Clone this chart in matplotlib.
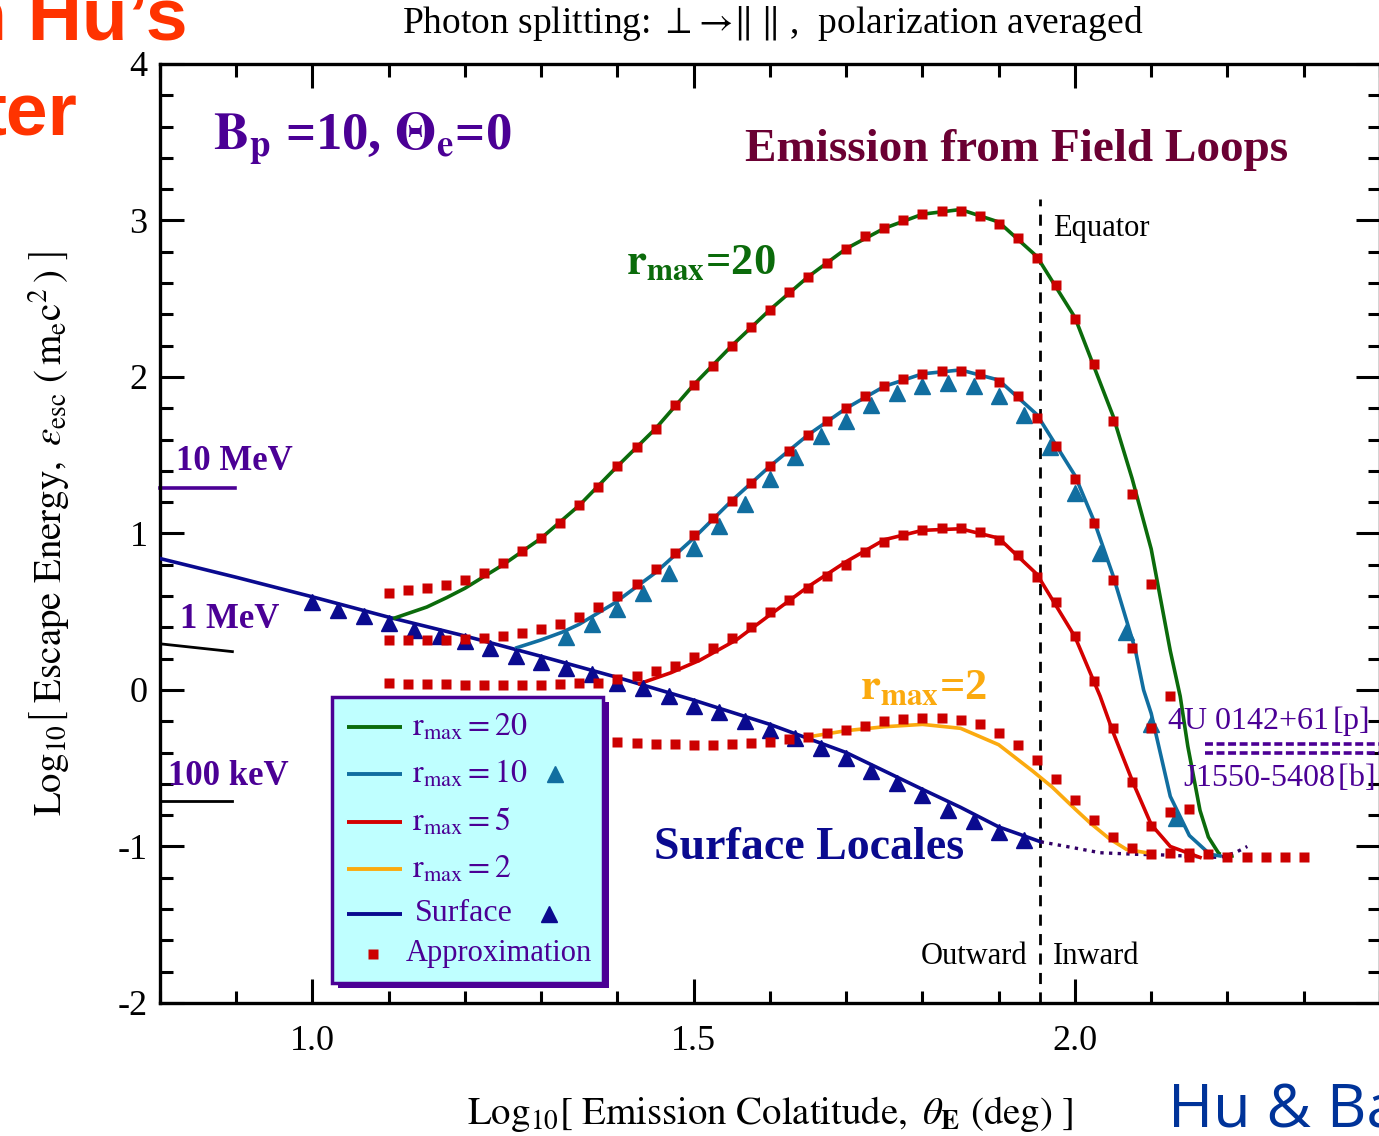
import numpy as np
import matplotlib
matplotlib.use("Agg")
import matplotlib.pyplot as plt
from matplotlib.patches import Rectangle

plt.rcParams['font.family'] = ['Liberation Serif', 'DejaVu Serif']
plt.rcParams['mathtext.fontset'] = 'stix'
plt.rcParams['axes.unicode_minus'] = False

# ---- data ----
surf_x = [0.80, 0.90, 1.00, 1.10, 1.20, 1.30, 1.40, 1.50, 1.60, 1.70, 1.80, 1.85, 1.90, 1.955]
surf_y = [0.84, 0.72, 0.595, 0.465, 0.345, 0.215, 0.08, -0.065, -0.22, -0.40, -0.635, -0.75, -0.875, -0.97]
surf_dot_x = [1.955, 2.00, 2.033, 2.08, 2.121, 2.16, 2.19, 2.21, 2.226]
surf_dot_y = [-0.97, -1.01, -1.04, -1.05, -1.055, -1.065, -1.07, -1.04, -1.00]
surf_tri_x = [1.000, 1.033, 1.067, 1.100, 1.133, 1.167, 1.200, 1.233, 1.267, 1.300, 1.333, 1.367,
              1.400, 1.433, 1.467, 1.500, 1.533, 1.567, 1.600, 1.633, 1.667, 1.700, 1.733, 1.767,
              1.800, 1.833, 1.867, 1.900, 1.933]
surf_tri_y = [0.56, 0.51, 0.47, 0.43, 0.38, 0.345, 0.31, 0.27, 0.22, 0.18, 0.14, 0.10,
              0.045, 0.01, -0.04, -0.10, -0.14, -0.20, -0.255, -0.31, -0.37, -0.435, -0.52, -0.595,
              -0.67, -0.77, -0.84, -0.91, -0.96]

r20_x = [1.108, 1.15, 1.176, 1.20, 1.25, 1.30, 1.35, 1.40, 1.45, 1.50, 1.55, 1.60, 1.65, 1.70,
         1.75, 1.80, 1.85, 1.90, 1.95, 2.00, 2.05, 2.075, 2.10, 2.125, 2.138, 2.148, 2.164, 2.175, 2.188]
r20_y = [0.46, 0.53, 0.59, 0.65, 0.80, 0.97, 1.18, 1.43, 1.67, 1.95, 2.20, 2.43, 2.64, 2.82,
         2.95, 3.04, 3.07, 2.99, 2.77, 2.38, 1.75, 1.35, 0.90, 0.25, -0.04, -0.36, -0.77, -0.94, -1.04]
r20_dot_x = [2.188, 2.20, 2.21]
r20_dot_y = [-1.04, -1.07, -1.06]
r20_sq_x = [1.100, 1.125, 1.150, 1.175, 1.200, 1.225, 1.250, 1.275, 1.300, 1.325, 1.350, 1.375,
            1.400, 1.425, 1.450, 1.475, 1.500, 1.525, 1.550, 1.575, 1.600, 1.625, 1.650, 1.675,
            1.700, 1.725, 1.750, 1.775, 1.800, 1.825, 1.850, 1.875, 1.900, 1.925, 1.950, 1.975,
            2.000, 2.025, 2.050, 2.075, 2.100, 2.125, 2.150, 2.175, 2.200, 2.225, 2.250, 2.275, 2.300]
r20_sq_y = [0.62, 0.64, 0.65, 0.67, 0.70, 0.75, 0.81, 0.89, 0.97, 1.07, 1.18, 1.30,
            1.43, 1.55, 1.67, 1.82, 1.95, 2.07, 2.20, 2.32, 2.43, 2.54, 2.64, 2.73,
            2.82, 2.90, 2.95, 3.00, 3.04, 3.06, 3.06, 3.03, 2.98, 2.89, 2.76, 2.59,
            2.37, 2.08, 1.72, 1.25, 0.68, -0.04, -0.76, -1.05, -1.07, -1.07, -1.07, -1.07, -1.07]

r10_x = [1.268, 1.30, 1.328, 1.35, 1.396, 1.45, 1.50, 1.55, 1.60, 1.65, 1.70, 1.75, 1.80, 1.85,
         1.90, 1.95, 2.00, 2.025, 2.05, 2.079, 2.09, 2.10, 2.125, 2.15, 2.177, 2.19]
r10_y = [0.27, 0.32, 0.37, 0.42, 0.555, 0.75, 0.97, 1.21, 1.43, 1.63, 1.80, 1.94, 2.02, 2.045,
         1.98, 1.76, 1.37, 1.08, 0.73, 0.26, 0.0, -0.15, -0.68, -0.93, -1.05, -1.06]
r10_tri_x = [1.333, 1.367, 1.400, 1.433, 1.467, 1.500, 1.533, 1.567, 1.600, 1.633, 1.667, 1.700,
             1.733, 1.767, 1.800, 1.833, 1.867, 1.900, 1.933, 1.967, 2.000, 2.033, 2.067, 2.100, 2.133]
r10_tri_y = [0.34, 0.42, 0.52, 0.62, 0.75, 0.91, 1.05, 1.19, 1.35, 1.49, 1.62, 1.72,
             1.82, 1.90, 1.94, 1.96, 1.94, 1.88, 1.76, 1.55, 1.26, 0.875, 0.37, -0.22, -0.82]
r10_sq_x = [1.100, 1.125, 1.150, 1.175, 1.200, 1.225, 1.250, 1.275, 1.300, 1.325, 1.350, 1.375,
            1.400, 1.425, 1.450, 1.475, 1.500, 1.525, 1.550, 1.575, 1.600, 1.625, 1.650, 1.675,
            1.700, 1.725, 1.750, 1.775, 1.800, 1.825, 1.850, 1.875, 1.900, 1.925, 1.950, 1.975,
            2.000, 2.025, 2.050, 2.075, 2.100, 2.125, 2.150]
r10_sq_y = [0.32, 0.32, 0.32, 0.32, 0.326, 0.33, 0.345, 0.364, 0.39, 0.42, 0.466, 0.53,
            0.60, 0.68, 0.77, 0.875, 0.99, 1.10, 1.21, 1.32, 1.43, 1.53, 1.63, 1.72,
            1.80, 1.88, 1.94, 1.99, 2.02, 2.04, 2.04, 2.02, 1.97, 1.88, 1.74, 1.56,
            1.35, 1.07, 0.70, 0.27, -0.24, -0.78, -1.04]

r5_x = [1.429, 1.47, 1.508, 1.556, 1.60, 1.65, 1.70, 1.75, 1.80, 1.85, 1.90, 1.95, 2.00, 2.033,
        2.05, 2.076, 2.10, 2.125, 2.164]
r5_y = [0.04, 0.11, 0.19, 0.32, 0.48, 0.66, 0.82, 0.96, 1.02, 1.03, 0.97, 0.74, 0.34, -0.04,
        -0.27, -0.59, -0.86, -1.0, -1.07]
r5_sq_x = [1.100, 1.125, 1.150, 1.175, 1.200, 1.225, 1.250, 1.275, 1.300, 1.325, 1.350, 1.375,
           1.400, 1.425, 1.450, 1.475, 1.500, 1.525, 1.550, 1.575, 1.600, 1.625, 1.650, 1.675,
           1.700, 1.725, 1.750, 1.775, 1.800, 1.825, 1.850, 1.875, 1.900, 1.925, 1.950, 1.975,
           2.000, 2.025, 2.050, 2.075, 2.100, 2.125, 2.150]
r5_sq_y = [0.045, 0.04, 0.04, 0.04, 0.03, 0.03, 0.03, 0.03, 0.03, 0.04, 0.045, 0.045,
           0.07, 0.09, 0.12, 0.15, 0.21, 0.27, 0.33, 0.40, 0.50, 0.575, 0.65, 0.73,
           0.80, 0.88, 0.945, 0.99, 1.02, 1.035, 1.035, 1.01, 0.96, 0.86, 0.72, 0.56,
           0.345, 0.06, -0.24, -0.59, -0.87, -1.04, -1.07]

r2_x = [1.65, 1.70, 1.75, 1.80, 1.85, 1.90, 1.945, 1.97, 2.00, 2.02, 2.045, 2.068, 2.094]
r2_y = [-0.30, -0.26, -0.235, -0.22, -0.245, -0.35, -0.52, -0.62, -0.76, -0.85, -0.95, -1.02, -1.04]
r2_sq_x = [1.400, 1.425, 1.450, 1.475, 1.500, 1.525, 1.550, 1.575, 1.600, 1.625, 1.650, 1.675,
           1.700, 1.725, 1.750, 1.775, 1.800, 1.825, 1.850, 1.875, 1.900, 1.925, 1.950, 1.975,
           2.000, 2.025, 2.050, 2.075, 2.100]
r2_sq_y = [-0.33, -0.34, -0.345, -0.345, -0.35, -0.35, -0.345, -0.34, -0.33, -0.315, -0.30, -0.275,
           -0.255, -0.23, -0.20, -0.185, -0.18, -0.18, -0.19, -0.22, -0.275, -0.35, -0.45, -0.57,
           -0.70, -0.83, -0.94, -1.01, -1.05]

equator_x = 1.954
energy_levels = [1.29, 0.29, -0.71]      # 10 MeV, 1 MeV, 100 keV
magnetar_levels = [-0.345, -0.40]        # 4U 0142+61, J1550-5408

c_green = '#0b6b0b'
c_blue = '#116ea0'
c_red = '#d40000'
c_orange = '#fbaa0f'
c_navy = '#0a0a8f'
c_sq = '#cc0000'
c_purple = '#4b0095'

fig = plt.figure(figsize=(13.79, 11.36), dpi=100)
ax = fig.add_axes([0.1160, 0.1171, 0.8847, 0.8266])

lw = 2.6
ax.plot(surf_x, surf_y, color=c_navy, lw=lw, zorder=3)
ax.plot(surf_dot_x, surf_dot_y, color='#330066', lw=2.4, ls=(0, (1, 1.6)), zorder=3)
ax.plot(r20_x, r20_y, color=c_green, lw=lw, zorder=3)
ax.plot(r20_dot_x, r20_dot_y, color=c_green, lw=2.0, ls=(0, (1, 1.5)), zorder=3)
ax.plot(r10_x, r10_y, color=c_blue, lw=lw, zorder=3)
ax.plot(r5_x, r5_y, color=c_red, lw=lw, zorder=3)
ax.plot(r2_x, r2_y, color=c_orange, lw=lw, zorder=3)

ax.plot(surf_tri_x, surf_tri_y, ls='none', marker='^', ms=11, color=c_navy, zorder=4)
ax.plot(r10_tri_x, r10_tri_y, ls='none', marker='^', ms=11, color=c_blue, zorder=4)
for sx, sy in [(r20_sq_x, r20_sq_y), (r10_sq_x, r10_sq_y), (r5_sq_x, r5_sq_y), (r2_sq_x, r2_sq_y)]:
    ax.plot(sx, sy, ls='none', marker='s', ms=7, color=c_sq, mec='none', zorder=5)

# equator
ax.plot([equator_x, equator_x], [-2.0, 3.14], color='black', lw=2, ls=(0, (4, 3)), zorder=2)

# energy markers on the left
ax.plot([0.8, 0.898], [energy_levels[0]] * 2, color=c_purple, lw=2.6, clip_on=False)
ax.plot([0.8, 0.895], [energy_levels[1] + 0.005, energy_levels[1] - 0.045], color='black', lw=2)
ax.plot([0.8, 0.895], [energy_levels[2]] * 2, color='black', lw=2)
ax.text(0.821, 1.46, '10 MeV', color=c_purple, fontsize=25, fontweight='bold', va='center')
ax.text(0.826, 0.45, '1 MeV', color=c_purple, fontsize=25, fontweight='bold', va='center')
ax.text(0.810, -0.55, '100 keV', color=c_purple, fontsize=25, fontweight='bold', va='center')

# magnetar lines on the right
for lv in magnetar_levels:
    ax.plot([2.171, 2.4], [lv, lv], color=c_purple, lw=2.6, ls=(0, (2.2, 1.0)), zorder=3)
ax.text(2.121, -0.20, '4U 0142+61$\\,$[p]', color=c_purple, fontsize=23, va='center', ha='left')
ax.text(2.142, -0.56, 'J1550-5408$\\,$[b]', color=c_purple, fontsize=23, va='center', ha='left')

# labels in the plot
ax.text(0.87, 3.52, r'$\mathbf{B_p}$ =10, $\mathbf{\Theta_e}$=0', color=c_purple, fontsize=38,
        fontweight='bold', va='center')
ax.text(1.923, 3.45, 'Emission from Field Loops', color='#6b0033', fontsize=34,
        fontweight='bold', va='center', ha='center')
ax.text(1.448, -1.01, 'Surface Locales', color=c_navy, fontsize=33, fontweight='bold',
        va='center', ha='left')
ax.text(1.411, 2.73, r'$\mathbf{r_{max}}$=20', color=c_green, fontsize=32, fontweight='bold',
        va='center', ha='left')
ax.text(1.718, 0.01, r'$\mathbf{r_{max}}$=2', color=c_orange, fontsize=32, fontweight='bold',
        va='center', ha='left')
ax.text(1.971, 2.95, 'Equator', fontsize=22, va='center', ha='left')
ax.text(1.938, -1.70, 'Outward', fontsize=22, va='center', ha='right')
ax.text(1.971, -1.70, 'Inward', fontsize=22, va='center', ha='left')

# legend box
lx0, lx1, ly0, ly1 = 1.026, 1.381, -1.871, -0.045
ax.add_patch(Rectangle((lx0 + 0.008, ly0 - 0.035), lx1 - lx0, ly1 - ly0, facecolor=c_purple,
                       edgecolor='none', zorder=6))
ax.add_patch(Rectangle((lx0, ly0), lx1 - lx0, ly1 - ly0, facecolor='#bfffff',
                       edgecolor=c_purple, lw=2.5, zorder=7))
rows_y = [-0.236, -0.536, -0.843, -1.143, -1.431, -1.686]
leg_labels = [r'$\mathrm{r_{max}} = 20$', r'$\mathrm{r_{max}} = 10$', r'$\mathrm{r_{max}} = 5$',
              r'$\mathrm{r_{max}} = 2$', 'Surface']
leg_colors = [c_green, c_blue, c_red, c_orange, c_navy]
for yy, lab, col in zip(rows_y, leg_labels, leg_colors):
    ax.plot([1.045, 1.117], [yy, yy], color=col, lw=2.8, zorder=8, solid_capstyle='butt')
    ax.text(1.134 if lab == 'Surface' else 1.131, yy, lab, color=c_purple, fontsize=23,
            va='center', ha='left', zorder=8)
ax.plot([1.318], [rows_y[1]], marker='^', ms=11, color=c_blue, zorder=8)
ax.plot([1.310], [rows_y[4]], marker='^', ms=11, color=c_navy, zorder=8)
ax.plot([1.080], [rows_y[5]], marker='s', ms=7, color=c_sq, mec='none', zorder=8)
ax.text(1.122, rows_y[5], 'Approximation', color=c_purple, fontsize=22, va='center',
        ha='left', zorder=8)

# axes styling
ax.set_xlim(0.8, 2.4)
ax.set_ylim(-2, 4)
ax.set_xticks([1.0, 1.5, 2.0])
ax.set_xticklabels(['1.0', '1.5', '2.0'])
ax.set_xticks(np.arange(0.8, 2.41, 0.1), minor=True)
ax.set_yticks([-2, -1, 0, 1, 2, 3, 4])
ax.set_yticks(np.arange(-2, 4.01, 0.2), minor=True)
ax.tick_params(which='both', direction='in', top=True, right=True, width=2.2, labelsize=26)
ax.tick_params(which='major', length=17)
ax.tick_params(which='minor', length=9)
ax.tick_params(axis='x', which='major', pad=16)
ax.tick_params(axis='y', which='major', pad=9)
for sp in ax.spines.values():
    sp.set_linewidth(2.4)

ax.set_xlabel(r'$\mathrm{Log_{10}}\left[\ \mathrm{Emission\ Colatitude,}\ \theta_{\mathbf{E}}\ \mathrm{(deg)}\ \right]$',
              fontsize=28, labelpad=26)
ax.set_ylabel(r'$\mathrm{Log_{10}}\left[\ \mathrm{Escape\ Energy,}\ \varepsilon_{\mathrm{esc}}\ (\,\mathrm{m_e c^2}\,)\ \right]$',
              fontsize=28, labelpad=33)

fig.text(0.56, 0.979, r'Photon splitting: $\perp\!\rightarrow\!\Vert\;\Vert$ ,  polarization averaged',
         fontsize=27, ha='center', va='center')

# overlay fragments from the slide
fig.text(188 / 1379, 1 - 40 / 1136, 'n Hu\u2019s', color='#ff3300', fontsize=54, fontweight='bold',
         family='Liberation Sans', ha='right', va='baseline')
fig.text(77 / 1379, 1 - 135 / 1136, 'ter', color='#ff3300', fontsize=54, fontweight='bold',
         family='Liberation Sans', ha='right', va='baseline')
fig.text(1168 / 1379, 1 - 1127 / 1136, 'Hu & Ba', color='#003399', fontsize=44,
         family='Open Sans', ha='left', va='baseline')

fig.savefig('out.png', dpi=100)
